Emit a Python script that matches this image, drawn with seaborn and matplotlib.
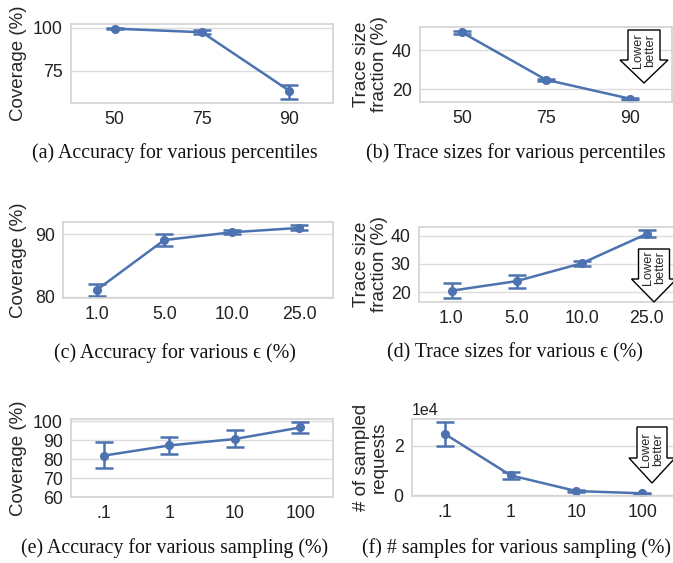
import numpy as np
import pandas as pd
import matplotlib
matplotlib.use('Agg')
import matplotlib.pyplot as plt
from matplotlib.patches import Polygon
import seaborn as sns

# (a)/(b) percentile sweep
pct = ['50', '75', '90']
cov_pct = [99.6, 97.5, 63.5]
cov_pct_lo = [99.4, 96.4, 59.0]
cov_pct_hi = [99.8, 98.6, 67.0]
size_pct = [49.3, 24.8, 15.0]
size_pct_lo = [48.7, 24.3, 14.5]
size_pct_hi = [49.8, 25.3, 15.5]

# (c)/(d) epsilon sweep
eps = ['1.0', '5.0', '10.0', '25.0']
cov_eps = [81.1, 89.1, 90.35, 91.05]
cov_eps_lo = [80.1, 88.1, 90.0, 90.65]
cov_eps_hi = [82.0, 90.0, 90.65, 91.45]
size_eps = [20.5, 23.9, 30.2, 40.6]
size_eps_lo = [17.8, 21.4, 29.2, 39.4]
size_eps_hi = [23.3, 26.0, 31.2, 41.9]

# (e)/(f) sampling sweep
samp = ['.1', '1', '10', '100']
cov_samp = [81.9, 87.3, 90.7, 96.8]
cov_samp_lo = [75.3, 83.0, 86.3, 93.8]
cov_samp_hi = [88.9, 91.6, 95.6, 99.8]
req_samp = [24800, 8000, 1600, 700]
req_samp_lo = [20000, 6700, 1300, 550]
req_samp_hi = [29500, 9400, 1900, 850]

captions = ['(a) Accuracy for various percentiles',
            '(b) Trace sizes for various percentiles',
            '(c) Accuracy for various \u03f5 (%)',
            '(d) Trace sizes for various \u03f5 (%)',
            '(e) Accuracy for various sampling (%)',
            '(f) # samples for various sampling (%)']

sns.set_theme(style='whitegrid')
plt.rcParams['font.family'] = ['Liberation Sans', 'DejaVu Sans']
plt.rcParams['axes.edgecolor'] = '#d4d4d4'
plt.rcParams['grid.color'] = '#dcdcdc'

W, H = 673, 563
fig = plt.figure(figsize=(W / 100, H / 100), dpi=100)
blue = sns.color_palette('deep')[0]


def px_axes(l, t, r, b):
    return fig.add_axes([l / W, 1 - b / H, (r - l) / W, (b - t) / H])


def panel(ax, cats, vals, lo, hi, ylabel, ylim, yticks, label_x):
    df = pd.DataFrame({'x': cats, 'y': vals})
    sns.pointplot(data=df, x='x', y='y', ax=ax, color=blue, errorbar=None,
                  markers='o', markersize=5.2, linewidth=1.8)
    vals = np.array(vals)
    yerr = [vals - np.array(lo), np.array(hi) - vals]
    ax.errorbar(np.arange(len(cats)), vals, yerr=yerr, fmt='none', ecolor=blue,
                elinewidth=1.8, capsize=6.5, capthick=1.8)
    ax.set_xlim(-0.5, len(cats) - 0.5)
    ax.set_ylim(*ylim)
    ax.set_yticks(yticks)
    ax.set_xlabel('')
    ax.set_ylabel(ylabel, fontsize=13.5, linespacing=1.05)
    lx = (label_x - ax.get_position().x0 * W) / (ax.get_position().width * W)
    ax.yaxis.set_label_coords(lx, 0.5)
    ax.tick_params(axis='both', labelsize=12.8, pad=6, length=0, colors='#222222')
    ax.grid(False, axis='x')
    for s in ax.spines.values():
        s.set_color('#d4d4d4')


def lower_better(cx, top, neck, tip, shaft_w, head_w, text_y):
    pts = [(cx - shaft_w / 2, top), (cx + shaft_w / 2, top),
           (cx + shaft_w / 2, neck), (cx + head_w / 2, neck), (cx, tip),
           (cx - head_w / 2, neck), (cx - shaft_w / 2, neck)]
    pts = [(x / W, 1 - y / H) for x, y in pts]
    fig.patches.append(Polygon(pts, closed=True, transform=fig.transFigure,
                               facecolor='white', edgecolor='black', lw=1.0, zorder=5))
    fig.text(cx / W, 1 - text_y / H, 'Lower\nbetter', rotation=90, ha='center', va='center',
             fontsize=9.2, linespacing=0.95, zorder=6)


ax_a = px_axes(71, 24, 333, 103)
panel(ax_a, pct, cov_pct, cov_pct_lo, cov_pct_hi, 'Coverage (%)', (56.4, 102.3), [75, 100], 27)

ax_b = px_axes(420, 27, 672, 102)
panel(ax_b, pct, size_pct, size_pct_lo, size_pct_hi, 'Trace size\nfraction (%)', (13.3, 52.1), [20, 40], 388)

ax_c = px_axes(63, 222, 333, 298)
panel(ax_c, eps, cov_eps, cov_eps_lo, cov_eps_hi, 'Coverage (%)', (79.8, 92.0), [80, 90], 27)

ax_d = px_axes(419, 227, 679, 302)
panel(ax_d, eps, size_eps, size_eps_lo, size_eps_hi, 'Trace size\nfraction (%)', (16.5, 43.1), [20, 30, 40], 388)

ax_e = px_axes(71, 419, 333, 497)
panel(ax_e, samp, cov_samp, cov_samp_lo, cov_samp_hi, 'Coverage (%)', (60, 101.3), [60, 70, 80, 90, 100], 27)

ax_f = px_axes(412, 419, 675, 496)
panel(ax_f, samp, req_samp, req_samp_lo, req_samp_hi, '# of sampled\nrequests', (-400, 30900), [0, 20000], 388)
ax_f.ticklabel_format(axis='y', style='sci', scilimits=(0, 0))
ax_f.yaxis.get_offset_text().set_fontsize(11.5)

lower_better(644, 30, 60, 83, 32, 48, 51)
lower_better(654, 249, 279, 302, 31, 45, 268)
lower_better(652, 427, 458, 483, 30, 46, 450)

cap_pos = [(175, 153), (516, 153), (175, 353), (515, 353), (175, 548), (516, 548)]
for (x, y), txt in zip(cap_pos, captions):
    fig.text(x / W, 1 - y / H, txt, ha='center', va='center', fontsize=14.3,
             family=['Liberation Serif', 'DejaVu Serif'], color='#111111')

fig.savefig('out.png', dpi=100)
